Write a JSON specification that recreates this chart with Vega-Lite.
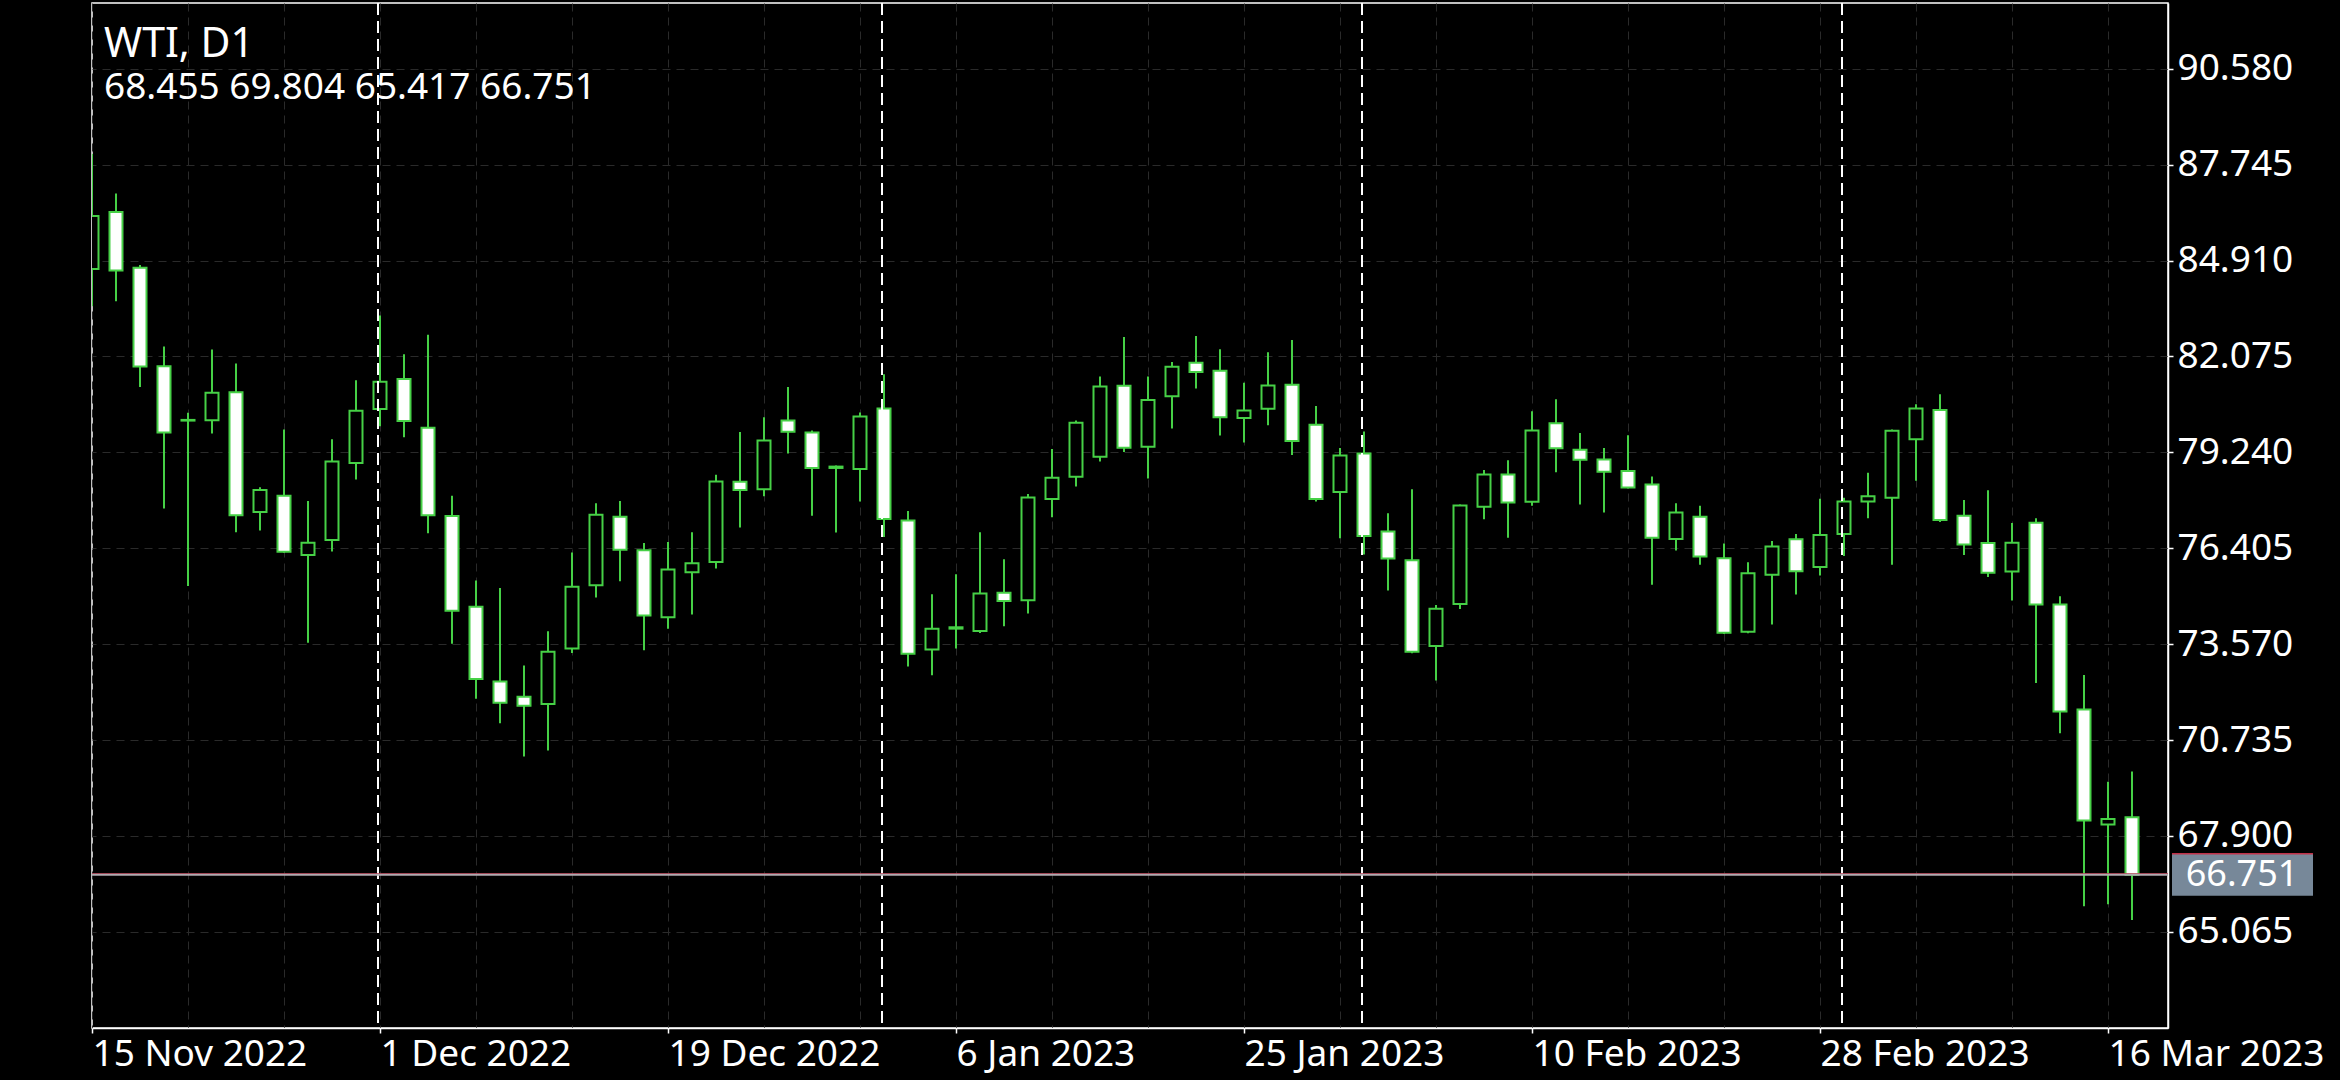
{
  "$schema": "https://vega.github.io/schema/vega-lite/v6.json",
  "width": 2076,
  "height": 1025,
  "autosize": {"type": "none"},
  "padding": {"left": 92, "top": 3, "right": 172, "bottom": 52},
  "background": "#000000",
  "config": {
    "view": {"stroke": "#ffffff", "strokeWidth": 1.5, "fill": "#000000"},
    "font": "Noto Sans"
  },
  "title": {
    "text": "WTI, D1",
    "subtitle": "68.455 69.804 65.417 66.751",
    "anchor": "start",
    "frame": "group",
    "orient": "top",
    "offset": 0,
    "dx": 12,
    "dy": 105,
    "font": "Noto Sans",
    "fontSize": 41,
    "fontWeight": "normal",
    "color": "#ffffff",
    "subtitleFont": "Noto Sans",
    "subtitleFontSize": 37,
    "subtitleColor": "#ffffff",
    "subtitlePadding": 4
  },
  "datasets": {
    "bars": [
      {"date": "2022-11-15", "open": 84.66, "high": 88.06, "low": 83.56, "close": 86.23},
      {"date": "2022-11-16", "open": 86.35, "high": 86.89, "low": 83.71, "close": 84.62},
      {"date": "2022-11-17", "open": 84.70, "high": 84.78, "low": 81.17, "close": 81.78},
      {"date": "2022-11-18", "open": 81.79, "high": 82.37, "low": 77.58, "close": 79.83},
      {"date": "2022-11-21", "open": 80.20, "high": 80.41, "low": 75.29, "close": 80.18},
      {"date": "2022-11-22", "open": 80.19, "high": 82.28, "low": 79.80, "close": 81.00},
      {"date": "2022-11-23", "open": 81.02, "high": 81.87, "low": 76.88, "close": 77.38},
      {"date": "2022-11-24", "open": 77.48, "high": 78.21, "low": 76.93, "close": 78.13},
      {"date": "2022-11-25", "open": 77.96, "high": 79.92, "low": 76.27, "close": 76.30},
      {"date": "2022-11-28", "open": 76.21, "high": 77.80, "low": 73.61, "close": 76.57},
      {"date": "2022-11-29", "open": 76.65, "high": 79.63, "low": 76.31, "close": 78.97},
      {"date": "2022-11-30", "open": 78.93, "high": 81.37, "low": 78.44, "close": 80.47},
      {"date": "2022-12-01", "open": 80.52, "high": 83.29, "low": 80.01, "close": 81.33},
      {"date": "2022-12-02", "open": 81.41, "high": 82.14, "low": 79.69, "close": 80.17},
      {"date": "2022-12-05", "open": 79.97, "high": 82.72, "low": 76.85, "close": 77.38},
      {"date": "2022-12-06", "open": 77.36, "high": 77.96, "low": 73.58, "close": 74.56},
      {"date": "2022-12-07", "open": 74.68, "high": 75.45, "low": 71.96, "close": 72.54},
      {"date": "2022-12-08", "open": 72.47, "high": 75.23, "low": 71.23, "close": 71.84},
      {"date": "2022-12-09", "open": 72.02, "high": 72.94, "low": 70.25, "close": 71.75},
      {"date": "2022-12-12", "open": 71.80, "high": 73.95, "low": 70.43, "close": 73.35},
      {"date": "2022-12-13", "open": 73.44, "high": 76.28, "low": 73.31, "close": 75.27},
      {"date": "2022-12-14", "open": 75.31, "high": 77.74, "low": 74.95, "close": 77.40},
      {"date": "2022-12-15", "open": 77.34, "high": 77.80, "low": 75.43, "close": 76.36},
      {"date": "2022-12-16", "open": 76.35, "high": 76.56, "low": 73.39, "close": 74.42},
      {"date": "2022-12-19", "open": 74.37, "high": 76.59, "low": 74.03, "close": 75.78},
      {"date": "2022-12-20", "open": 75.70, "high": 76.88, "low": 74.45, "close": 75.96},
      {"date": "2022-12-21", "open": 76.00, "high": 78.58, "low": 75.81, "close": 78.38},
      {"date": "2022-12-22", "open": 78.37, "high": 79.84, "low": 77.02, "close": 78.13},
      {"date": "2022-12-23", "open": 78.15, "high": 80.28, "low": 77.94, "close": 79.59},
      {"date": "2022-12-27", "open": 80.18, "high": 81.17, "low": 79.21, "close": 79.85},
      {"date": "2022-12-28", "open": 79.83, "high": 79.89, "low": 77.37, "close": 78.78},
      {"date": "2022-12-29", "open": 78.82, "high": 78.85, "low": 76.87, "close": 78.78},
      {"date": "2022-12-30", "open": 78.75, "high": 80.42, "low": 77.79, "close": 80.30},
      {"date": "2023-01-03", "open": 80.54, "high": 81.55, "low": 76.74, "close": 77.27},
      {"date": "2023-01-04", "open": 77.23, "high": 77.51, "low": 72.91, "close": 73.29},
      {"date": "2023-01-05", "open": 73.41, "high": 75.05, "low": 72.65, "close": 74.03},
      {"date": "2023-01-06", "open": 74.03, "high": 75.64, "low": 73.44, "close": 74.07},
      {"date": "2023-01-09", "open": 73.96, "high": 76.88, "low": 73.90, "close": 75.07},
      {"date": "2023-01-10", "open": 75.09, "high": 76.08, "low": 74.10, "close": 74.85},
      {"date": "2023-01-11", "open": 74.87, "high": 78.01, "low": 74.48, "close": 77.91},
      {"date": "2023-01-12", "open": 77.86, "high": 79.34, "low": 77.32, "close": 78.49},
      {"date": "2023-01-13", "open": 78.52, "high": 80.18, "low": 78.23, "close": 80.12},
      {"date": "2023-01-17", "open": 79.11, "high": 81.48, "low": 78.97, "close": 81.19},
      {"date": "2023-01-18", "open": 81.21, "high": 82.65, "low": 79.25, "close": 79.38},
      {"date": "2023-01-19", "open": 79.41, "high": 81.48, "low": 78.47, "close": 80.79},
      {"date": "2023-01-20", "open": 80.90, "high": 81.91, "low": 79.95, "close": 81.77},
      {"date": "2023-01-23", "open": 81.89, "high": 82.68, "low": 81.13, "close": 81.62},
      {"date": "2023-01-24", "open": 81.65, "high": 82.29, "low": 79.74, "close": 80.28},
      {"date": "2023-01-25", "open": 80.26, "high": 81.30, "low": 79.53, "close": 80.48},
      {"date": "2023-01-26", "open": 80.53, "high": 82.20, "low": 80.04, "close": 81.22},
      {"date": "2023-01-27", "open": 81.24, "high": 82.56, "low": 79.16, "close": 79.58},
      {"date": "2023-01-30", "open": 80.06, "high": 80.61, "low": 77.79, "close": 77.86},
      {"date": "2023-01-31", "open": 78.07, "high": 79.37, "low": 76.70, "close": 79.15},
      {"date": "2023-02-01", "open": 79.21, "high": 79.86, "low": 76.22, "close": 76.77},
      {"date": "2023-02-02", "open": 76.90, "high": 77.44, "low": 75.16, "close": 76.10},
      {"date": "2023-02-03", "open": 76.05, "high": 78.15, "low": 73.30, "close": 73.35},
      {"date": "2023-02-06", "open": 73.52, "high": 74.73, "low": 72.50, "close": 74.62},
      {"date": "2023-02-07", "open": 74.76, "high": 77.70, "low": 74.61, "close": 77.67},
      {"date": "2023-02-08", "open": 77.63, "high": 78.72, "low": 77.26, "close": 78.59},
      {"date": "2023-02-09", "open": 78.59, "high": 79.01, "low": 76.72, "close": 77.76},
      {"date": "2023-02-10", "open": 77.78, "high": 80.46, "low": 77.66, "close": 79.89},
      {"date": "2023-02-13", "open": 80.10, "high": 80.81, "low": 78.65, "close": 79.36},
      {"date": "2023-02-14", "open": 79.32, "high": 79.81, "low": 77.70, "close": 79.02},
      {"date": "2023-02-15", "open": 79.03, "high": 79.37, "low": 77.46, "close": 78.67},
      {"date": "2023-02-16", "open": 78.69, "high": 79.75, "low": 78.17, "close": 78.20},
      {"date": "2023-02-17", "open": 78.29, "high": 78.53, "low": 75.33, "close": 76.72},
      {"date": "2023-02-20", "open": 76.68, "high": 77.74, "low": 76.34, "close": 77.46},
      {"date": "2023-02-21", "open": 77.34, "high": 77.66, "low": 75.92, "close": 76.16},
      {"date": "2023-02-22", "open": 76.11, "high": 76.55, "low": 73.87, "close": 73.91},
      {"date": "2023-02-23", "open": 73.94, "high": 75.99, "low": 73.89, "close": 75.67},
      {"date": "2023-02-24", "open": 75.62, "high": 76.62, "low": 74.15, "close": 76.46},
      {"date": "2023-02-27", "open": 76.67, "high": 76.83, "low": 75.04, "close": 75.73},
      {"date": "2023-02-28", "open": 75.85, "high": 77.87, "low": 75.60, "close": 76.80},
      {"date": "2023-03-01", "open": 76.83, "high": 77.90, "low": 76.18, "close": 77.79},
      {"date": "2023-03-02", "open": 77.79, "high": 78.64, "low": 77.29, "close": 77.94},
      {"date": "2023-03-03", "open": 77.90, "high": 79.92, "low": 75.92, "close": 79.88},
      {"date": "2023-03-06", "open": 79.63, "high": 80.66, "low": 78.40, "close": 80.54},
      {"date": "2023-03-07", "open": 80.49, "high": 80.96, "low": 77.18, "close": 77.24},
      {"date": "2023-03-08", "open": 77.37, "high": 77.83, "low": 76.21, "close": 76.52},
      {"date": "2023-03-09", "open": 76.56, "high": 78.12, "low": 75.56, "close": 75.68},
      {"date": "2023-03-10", "open": 75.72, "high": 77.15, "low": 74.86, "close": 76.57},
      {"date": "2023-03-13", "open": 77.16, "high": 77.29, "low": 72.42, "close": 74.74},
      {"date": "2023-03-14", "open": 74.74, "high": 74.99, "low": 70.94, "close": 71.58},
      {"date": "2023-03-15", "open": 71.64, "high": 72.66, "low": 65.82, "close": 68.36},
      {"date": "2023-03-16", "open": 68.24, "high": 69.50, "low": 65.88, "close": 68.40},
      {"date": "2023-03-17", "open": 68.455, "high": 69.804, "low": 65.417, "close": 66.751}
    ],
    "separators": [
      {"date": "2022-12-01"},
      {"date": "2023-01-03"},
      {"date": "2023-02-01"},
      {"date": "2023-03-01"}
    ],
    "last": [
      {"price": 66.751, "ask": 66.785}
    ]
  },
  "layer": [
    {
      "data": {"name": "bars"},
      "mark": {"type": "rule", "color": "#46d046", "strokeWidth": 2, "clip": true},
      "encoding": {
        "x": {
          "field": "date",
          "type": "ordinal",
          "scale": {"type": "point", "padding": 0.75, "align": 0},
          "axis": {
            "values": ["2022-11-15", "2022-12-01", "2022-12-19", "2023-01-06", "2023-01-25", "2023-02-10", "2023-02-28", "2023-03-16"],
            "labelExpr": "utcFormat(toDate(datum.value), '%-d %b %Y')",
            "labelAlign": "left",
            "labelBaseline": "top",
            "labelAngle": 0,
            "labelFont": "Noto Sans",
            "labelFontSize": 37,
            "labelColor": "#ffffff",
            "labelPadding": 3,
            "labelLimit": 0,
            "labelFlush": false,
            "labelOverlap": false,
            "labelBound": false,
            "tickSize": 5,
            "tickColor": "#ffffff",
            "tickWidth": 1.5,
            "domainColor": "#ffffff",
            "domainWidth": 1.5,
            "grid": false,
            "title": null
          }
        },
        "y": {
          "field": "low",
          "type": "quantitative",
          "scale": {"domain": [62.224, 92.525], "nice": false, "zero": false},
          "axis": {
            "orient": "right",
            "values": [65.065, 67.9, 70.735, 73.57, 76.405, 79.24, 82.075, 84.91, 87.745, 90.58],
            "format": ".3f",
            "labelFont": "Noto Sans",
            "labelFontSize": 37,
            "labelColor": "#ffffff",
            "labelPadding": 4,
            "labelBaseline": "middle",
            "labelLimit": 0,
            "labelFlush": false,
            "labelOverlap": false,
            "tickSize": 5,
            "tickColor": "#ffffff",
            "tickWidth": 1.5,
            "domainColor": "#ffffff",
            "domainWidth": 1.5,
            "grid": true,
            "gridColor": "#2a2a2a",
            "gridDash": [8, 6],
            "gridWidth": 1,
            "title": null
          }
        },
        "y2": {"field": "high"}
      }
    },
    {
      "data": {"name": "bars"},
      "mark": {"type": "bar", "size": 13, "stroke": "#46d046", "strokeWidth": 2, "clip": true},
      "encoding": {
        "x": {"field": "date", "type": "ordinal", "axis": null},
        "y": {"field": "open", "type": "quantitative"},
        "y2": {"field": "close"},
        "fill": {"condition": {"test": "datum.close < datum.open", "value": "#ffffff"}, "value": "#000000"}
      }
    },
    {
      "data": {"name": "separators"},
      "mark": {"type": "rule", "color": "#ffffff", "strokeWidth": 2, "strokeDash": [12, 6], "xOffset": -2},
      "encoding": {
        "x": {
          "field": "date",
          "type": "ordinal",
          "axis": {
            "values": ["2022-11-15", "2022-11-21", "2022-11-25", "2022-12-01", "2022-12-07", "2022-12-13", "2022-12-19", "2022-12-23", "2022-12-30", "2023-01-06", "2023-01-12", "2023-01-19", "2023-01-25", "2023-01-31", "2023-02-06", "2023-02-10", "2023-02-16", "2023-02-22", "2023-02-28", "2023-03-06", "2023-03-10", "2023-03-16"],
            "grid": true,
            "gridColor": "#2a2a2a",
            "gridDash": [8, 6],
            "gridWidth": 1,
            "labels": false,
            "ticks": false,
            "domain": false,
            "title": null
          }
        }
      }
    },
    {
      "data": {"name": "last"},
      "mark": {"type": "rule", "color": "#c03048", "strokeWidth": 1},
      "encoding": {"y": {"field": "ask", "type": "quantitative"}}
    },
    {
      "data": {"name": "last"},
      "mark": {"type": "rule", "color": "#b0aab0", "strokeWidth": 2},
      "encoding": {"y": {"field": "price", "type": "quantitative"}}
    },
    {
      "data": {"name": "last"},
      "mark": {"type": "rect", "color": "#778899", "xOffset": 4, "x2Offset": 145, "yOffset": -21, "y2Offset": 21},
      "encoding": {
        "x": {"value": "width"},
        "x2": {"value": "width"},
        "y": {"field": "price", "type": "quantitative"},
        "y2": {"field": "price"}
      }
    },
    {
      "data": {"name": "last"},
      "mark": {"type": "rule", "color": "#c03048", "strokeWidth": 1.5, "xOffset": 4, "x2Offset": 145, "yOffset": -21},
      "encoding": {
        "x": {"value": "width"},
        "x2": {"value": "width"},
        "y": {"field": "price", "type": "quantitative"}
      }
    },
    {
      "data": {"name": "last"},
      "mark": {"type": "text", "font": "Noto Sans", "fontSize": 36, "color": "#ffffff", "align": "center", "baseline": "middle", "xOffset": 74},
      "encoding": {
        "x": {"value": "width"},
        "y": {"field": "price", "type": "quantitative"},
        "text": {"field": "price", "type": "quantitative", "format": ".3f"}
      }
    }
  ],
  "resolve": {"axis": {"x": "independent"}}
}
